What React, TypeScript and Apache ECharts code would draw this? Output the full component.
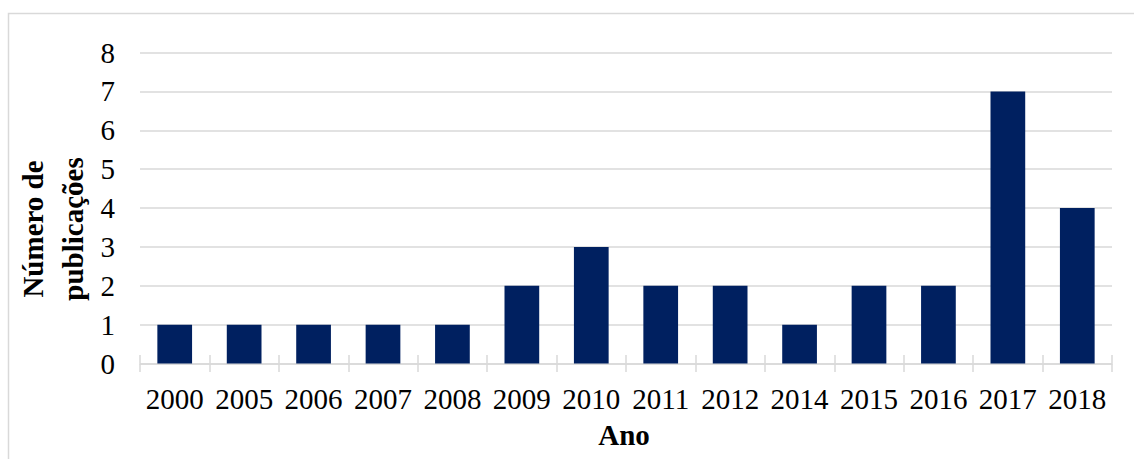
import React, { useEffect, useRef } from "react";
import * as echarts from "echarts";

// Publications per year
const years: string[] = [
  "2000", "2005", "2006", "2007", "2008", "2009", "2010",
  "2011", "2012", "2014", "2015", "2016", "2017", "2018",
];
const publications: number[] = [1, 1, 1, 1, 1, 2, 3, 2, 2, 1, 2, 2, 7, 4];

const FONT = "Liberation Serif";
const GRID_COLOR = "#d9d9d9";
const BAR_COLOR = "#002060";

export default function App() {
  const ref = useRef<HTMLDivElement>(null);

  useEffect(() => {
    if (!ref.current) return;
    const chart = echarts.init(ref.current, undefined, { renderer: "svg" });
    chart.setOption({
      animation: false,
      backgroundColor: "#ffffff",
      textStyle: { fontFamily: FONT },
      grid: { left: 140, right: 22, top: 52.5, bottom: 95.5, outerBoundsMode: "none", containLabel: false },
      xAxis: [
        {
          type: "category",
          data: years,
          position: "bottom",
          axisLine: { show: true, lineStyle: { color: GRID_COLOR, width: 1.5 } },
          axisTick: { show: true, length: 8.5, lineStyle: { color: GRID_COLOR, width: 1.5 } },
          axisLabel: { color: "#000", fontFamily: FONT, fontSize: 29, margin: 21, interval: 0 },
        },
        {
          // inner half of the crossing tick marks
          type: "category",
          data: years,
          position: "bottom",
          axisLine: { show: false },
          axisTick: { show: true, inside: true, length: 8.5, lineStyle: { color: GRID_COLOR, width: 1.5 } },
          axisLabel: { show: false },
          splitLine: { show: false },
        },
      ],
      yAxis: {
        type: "value",
        min: 0,
        max: 8,
        interval: 1,
        axisLine: { show: false },
        axisTick: { show: false },
        axisLabel: { color: "#000", fontFamily: FONT, fontSize: 29, margin: 25 },
        splitLine: { lineStyle: { color: GRID_COLOR, width: 1.5 } },
      },
      series: [
        {
          type: "bar",
          data: publications,
          xAxisIndex: 0,
          barCategoryGap: "50%",
          itemStyle: { color: BAR_COLOR },
        },
      ],
      graphic: [
        {
          type: "rect",
          silent: true,
          shape: { x: 8.5, y: 13.5, width: 1140, height: 470 },
          style: { fill: "none", stroke: GRID_COLOR, lineWidth: 1.5 },
          z: -1,
        },
        {
          type: "text",
          x: 624,
          y: 435,
          style: {
            text: "Ano",
            fontFamily: FONT,
            fontSize: 29,
            fontWeight: "bold",
            fill: "#000",
            align: "center",
            verticalAlign: "middle",
          },
        },
        {
          type: "text",
          x: 53,
          y: 229,
          rotation: Math.PI / 2,
          style: {
            text: "Número de\npublicações",
            fontFamily: FONT,
            fontSize: 29,
            fontWeight: "bold",
            fill: "#000",
            align: "center",
            verticalAlign: "middle",
            lineHeight: 40,
          },
        },
      ],
    });
    return () => chart.dispose();
  }, []);

  return (
    <div
      ref={ref}
      style={{ position: "absolute", left: 0, top: 0, width: 1134, height: 459 }}
    />
  );
}
